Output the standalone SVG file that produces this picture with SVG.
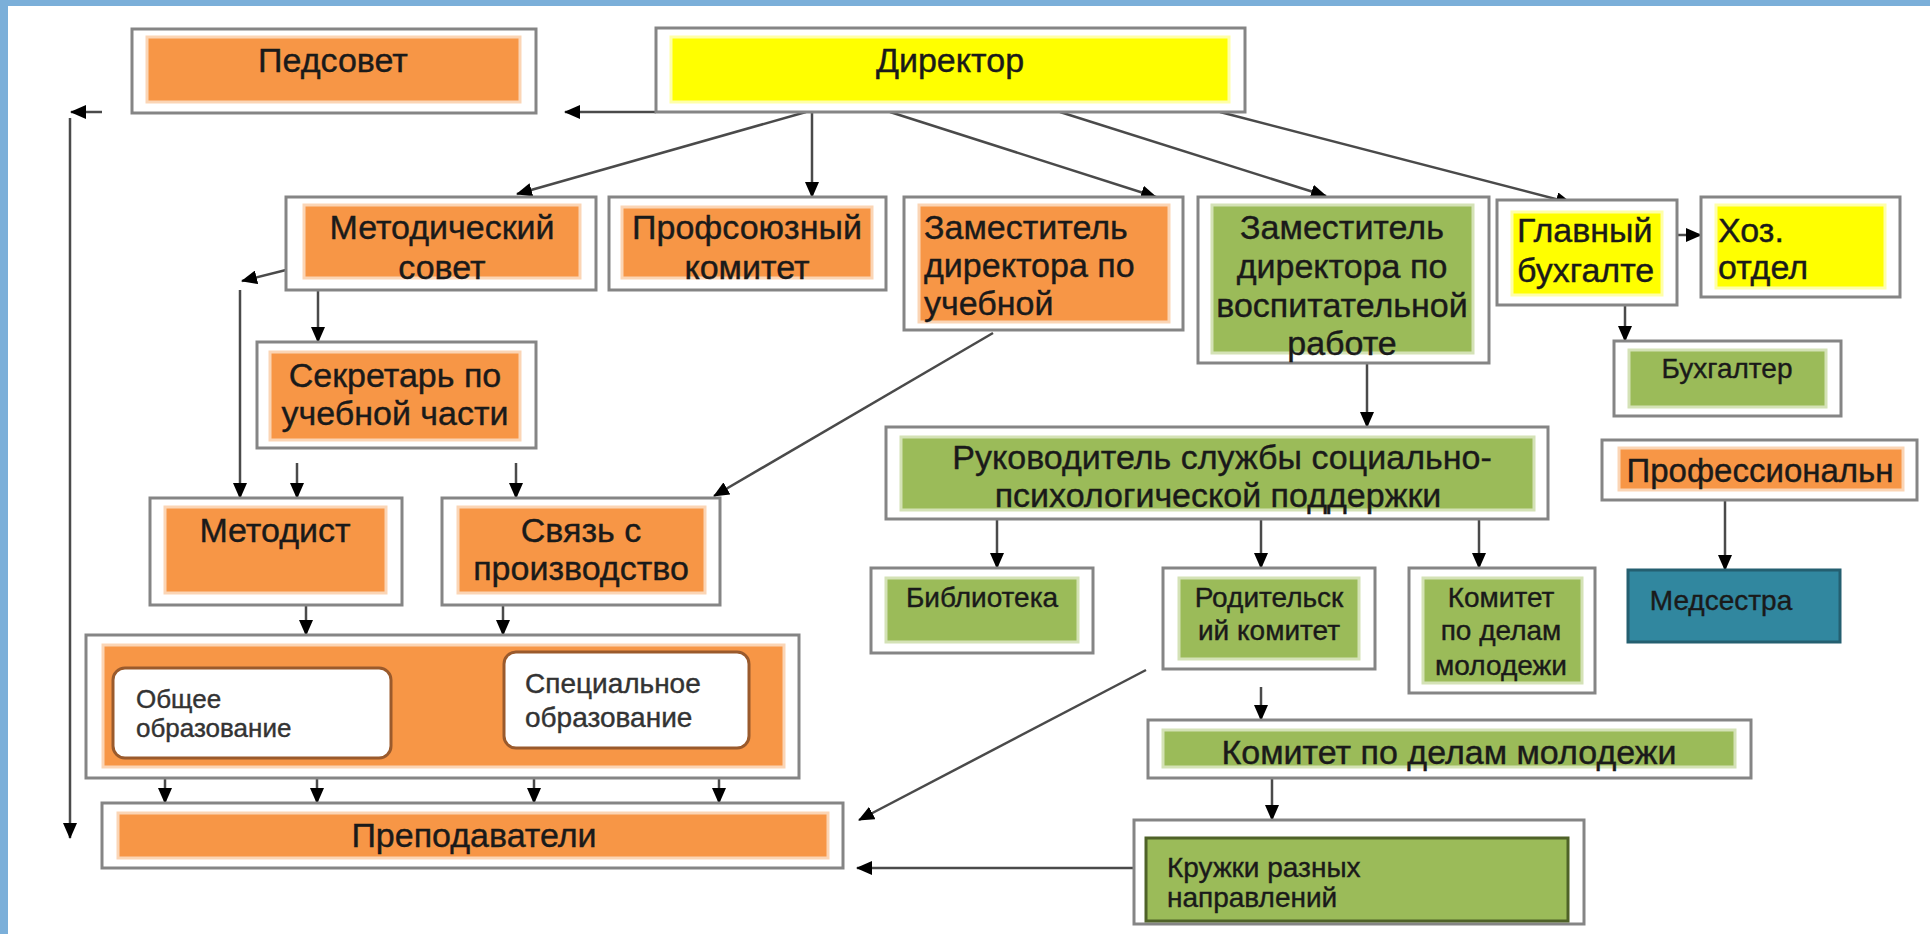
<svg xmlns="http://www.w3.org/2000/svg" width="1930" height="934" viewBox="0 0 1930 934">
<defs>
<marker id="ah" markerUnits="userSpaceOnUse" markerWidth="16" markerHeight="14" refX="15" refY="7" orient="auto">
<path d="M0,0 L16,7 L0,14 z" fill="#000"/>
</marker>
</defs>
<style>
.outer{fill:#fff;stroke:#858585;stroke-width:3}
.or{fill:#f79646;stroke:#fbd5b5;stroke-width:3}
.gr{fill:#9bbb59;stroke:#d4e2b6;stroke-width:3}
.ye{fill:#ffff00;stroke:#ffffa8;stroke-width:3}
.wh{fill:#fff;stroke:#9a5a2c;stroke-width:3}
.t{font-family:"Liberation Sans",Arial,sans-serif;font-size:34px;fill:#1a1a1a;stroke:#1a1a1a;stroke-width:0.4}
.s{font-size:28px}
.xs{font-size:26px;fill:#333;stroke:#333}
.c{text-anchor:middle}
.ln{stroke:#4a4a4a;stroke-width:2.5;fill:none}
.a{marker-end:url(#ah)}
</style>
<rect x="0" y="0" width="1930" height="934" fill="#fff"/>
<rect x="0" y="0" width="1930" height="6" fill="#7bafd9"/>
<rect x="0" y="0" width="8" height="934" fill="#7bafd9"/>

<g id="connectors">
<line class="ln a" x1="656" y1="112" x2="565" y2="112"/>
<line class="ln a" x1="102" y1="112" x2="71" y2="112"/>
<line class="ln a" x1="70" y1="118" x2="70" y2="838"/>
<line class="ln a" x1="806" y1="112" x2="517" y2="194"/>
<line class="ln a" x1="812" y1="112" x2="812" y2="197"/>
<line class="ln a" x1="890" y1="112" x2="1156" y2="197"/>
<line class="ln a" x1="1060" y1="112" x2="1326" y2="196"/>
<line class="ln a" x1="1220" y1="112" x2="1571" y2="203"/>
<line class="ln a" x1="1677" y1="235" x2="1701" y2="235"/>
<line class="ln a" x1="1625" y1="305" x2="1625" y2="341"/>
<line class="ln a" x1="1725" y1="500" x2="1725" y2="570"/>
<line class="ln a" x1="318" y1="290" x2="318" y2="342"/>
<line class="ln a" x1="286" y1="270" x2="242" y2="281"/>
<line class="ln a" x1="240" y1="290" x2="240" y2="498"/>
<line class="ln a" x1="297" y1="463" x2="297" y2="498"/>
<line class="ln a" x1="516" y1="463" x2="516" y2="498"/>
<line class="ln a" x1="993" y1="333" x2="714" y2="496"/>
<line class="ln a" x1="1367" y1="363" x2="1367" y2="427"/>
<line class="ln a" x1="997" y1="519" x2="997" y2="568"/>
<line class="ln a" x1="1261" y1="519" x2="1261" y2="568"/>
<line class="ln a" x1="1479" y1="519" x2="1479" y2="568"/>
<line class="ln a" x1="1261" y1="687" x2="1261" y2="720"/>
<line class="ln a" x1="1146" y1="670" x2="859" y2="820"/>
<line class="ln a" x1="1272" y1="778" x2="1272" y2="820"/>
<line class="ln a" x1="1134" y1="868" x2="857" y2="868"/>
<line class="ln a" x1="306" y1="605" x2="306" y2="635"/>
<line class="ln a" x1="503" y1="605" x2="503" y2="635"/>
<line class="ln a" x1="165" y1="778" x2="165" y2="803"/>
<line class="ln a" x1="317" y1="778" x2="317" y2="803"/>
<line class="ln a" x1="534" y1="778" x2="534" y2="803"/>
<line class="ln a" x1="719" y1="778" x2="719" y2="803"/>
</g>

<g id="pedsovet">
<rect class="outer" x="132" y="29" width="404" height="84"/>
<rect class="or" x="147" y="37" width="373" height="65"/>
<text class="t c" x="333" y="72">Педсовет</text>
</g>

<g id="direktor">
<rect class="outer" x="656" y="28" width="589" height="84"/>
<rect class="ye" x="671" y="37" width="558" height="65"/>
<text class="t c" x="950" y="72">Директор</text>
</g>

<g id="metod-sovet">
<rect class="outer" x="286" y="197" width="310" height="93"/>
<rect class="or" x="304" y="205" width="276" height="73"/>
<text class="t c" x="442" y="239">Методический</text>
<text class="t c" x="442" y="279">совет</text>
</g>

<g id="profkom">
<rect class="outer" x="609" y="197" width="277" height="93"/>
<rect class="or" x="622" y="207" width="250" height="71"/>
<text class="t c" x="747" y="239">Профсоюзный</text>
<text class="t c" x="747" y="279">комитет</text>
</g>

<g id="zam-ucheb">
<rect class="outer" x="904" y="197" width="279" height="133"/>
<rect class="or" x="919" y="205" width="250" height="117"/>
<text class="t" x="924" y="239">Заместитель</text>
<text class="t" x="924" y="277">директора по</text>
<text class="t" x="924" y="315">учебной</text>
</g>

<g id="zam-vosp">
<rect class="outer" x="1198" y="197" width="291" height="166"/>
<rect class="gr" x="1212" y="205" width="261" height="148"/>
<text class="t c" x="1342" y="239">Заместитель</text>
<text class="t c" x="1342" y="278">директора по</text>
<text class="t c" x="1342" y="317">воспитательной</text>
<text class="t c" x="1342" y="355">работе</text>
</g>

<g id="glavbuh">
<rect class="outer" x="1497" y="200" width="180" height="105"/>
<rect class="ye" x="1512" y="212" width="150" height="83"/>
<text class="t" x="1517" y="242">Главный</text>
<text class="t" x="1517" y="282">бухгалте</text>
</g>

<g id="hoz">
<rect class="outer" x="1701" y="197" width="199" height="100"/>
<rect class="ye" x="1716" y="205" width="169" height="83"/>
<text class="t" x="1718" y="242">Хоз.</text>
<text class="t" x="1718" y="279">отдел</text>
</g>

<g id="buhgalter">
<rect class="outer" x="1614" y="341" width="227" height="75"/>
<rect class="gr" x="1629" y="350" width="197" height="57"/>
<text class="t s c" x="1727" y="378">Бухгалтер</text>
</g>

<g id="prof">
<rect class="outer" x="1602" y="440" width="315" height="60"/>
<rect class="or" x="1619" y="448" width="284" height="42"/>
<text class="t c" x="1760" y="482" style="font-size:33px">Профессиональн</text>
</g>

<g id="medsestra">
<rect x="1628" y="570" width="212" height="72" fill="#31879f" stroke="#245f70" stroke-width="3"/>
<text class="t s c" x="1721" y="610">Медсестра</text>
</g>

<g id="sekretar">
<rect class="outer" x="257" y="342" width="279" height="106"/>
<rect class="or" x="270" y="352" width="250" height="88"/>
<text class="t c" x="395" y="387">Секретарь по</text>
<text class="t c" x="395" y="425">учебной части</text>
</g>

<g id="metodist">
<rect class="outer" x="150" y="498" width="252" height="107"/>
<rect class="or" x="165" y="507" width="221" height="86"/>
<text class="t c" x="275" y="542">Методист</text>
</g>

<g id="svyaz">
<rect class="outer" x="442" y="498" width="278" height="107"/>
<rect class="or" x="458" y="507" width="247" height="86"/>
<text class="t c" x="581" y="542">Связь с</text>
<text class="t c" x="581" y="580">производство</text>
</g>

<g id="rukovoditel">
<rect class="outer" x="886" y="427" width="662" height="92"/>
<rect class="gr" x="901" y="437" width="633" height="73"/>
<text class="t c" x="1222" y="469">Руководитель службы социально-</text>
<text class="t c" x="1218" y="507">психологической поддержки</text>
</g>

<g id="biblioteka">
<rect class="outer" x="871" y="568" width="222" height="85"/>
<rect class="gr" x="886" y="578" width="192" height="64"/>
<text class="t s c" x="982" y="607">Библиотека</text>
</g>

<g id="roditel">
<rect class="outer" x="1163" y="568" width="212" height="101"/>
<rect class="gr" x="1179" y="578" width="180" height="81"/>
<text class="t s c" x="1269" y="607">Родительск</text>
<text class="t s c" x="1269" y="640">ий комитет</text>
</g>

<g id="komitet-small">
<rect class="outer" x="1409" y="568" width="186" height="125"/>
<rect class="gr" x="1423" y="578" width="159" height="105"/>
<text class="t s c" x="1501" y="607">Комитет</text>
<text class="t s c" x="1501" y="640">по делам</text>
<text class="t s c" x="1501" y="675">молодежи</text>
</g>

<g id="komitet-wide">
<rect class="outer" x="1148" y="720" width="603" height="58"/>
<rect class="gr" x="1163" y="730" width="572" height="37"/>
<text class="t c" x="1449" y="764">Комитет по делам молодежи</text>
</g>

<g id="kruzhki">
<rect class="outer" x="1134" y="820" width="450" height="104"/>
<rect x="1146" y="838" width="422" height="83" fill="#9bbb59" stroke="#4f6228" stroke-width="3"/>
<text class="t s" x="1167" y="877">Кружки разных</text>
<text class="t s" x="1167" y="907">направлений</text>
</g>

<g id="obrazovanie">
<rect class="outer" x="86" y="635" width="713" height="143"/>
<rect class="or" x="103" y="645" width="681" height="122"/>
<rect class="wh" x="113" y="668" width="278" height="90" rx="12"/>
<text class="t xs" x="136" y="708">Общее</text>
<text class="t xs" x="136" y="737">образование</text>
<rect class="wh" x="504" y="652" width="245" height="96" rx="12"/>
<text class="t s" x="525" y="693" style="fill:#333;stroke:#333">Специальное</text>
<text class="t s" x="525" y="727" style="fill:#333;stroke:#333">образование</text>
</g>

<g id="prepodavateli">
<rect class="outer" x="102" y="803" width="741" height="65"/>
<rect class="or" x="118" y="813" width="710" height="45"/>
<text class="t c" x="474" y="847">Преподаватели</text>
</g>
</svg>
